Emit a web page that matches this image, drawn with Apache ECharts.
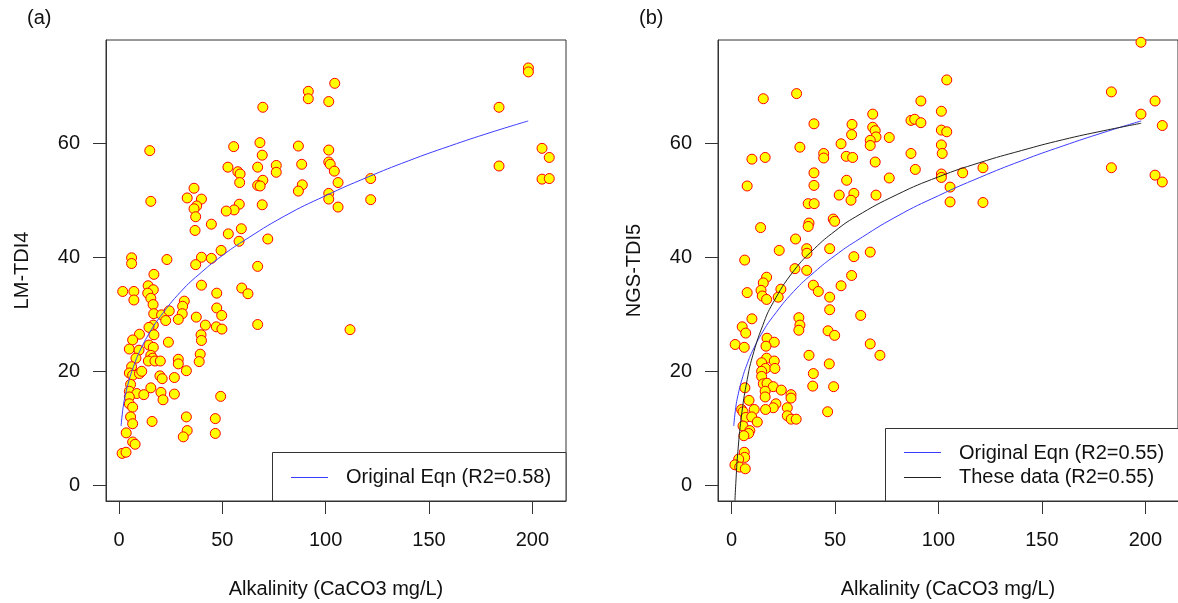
<!DOCTYPE html>
<html>
<head>
<meta charset="utf-8">
<title>TDI vs Alkalinity</title>
<script src="https://cdn.jsdelivr.net/npm/echarts@6/dist/echarts.min.js"></script>
<style>
  html, body { margin: 0; padding: 0; background: #fff; }
  #chart { width: 1178px; height: 603px; }
</style>
</head>
<body>
<div id="chart"></div>
<script>
// Panel (a): alkalinity (mg/L CaCO3) and LM-TDI4 per site
const alkA = [
  104.4, 91.6, 91.6, 101.5, 69.6, 68.2, 55.5, 14.9, 86.8, 101.5,
  69.3, 52.7, 57.5, 58.6, 67.1, 76.1, 76.1, 88.4, 101.5, 102.2,
  104.2, 106.0, 58.4, 69.6, 67.1, 68.3, 88.7, 86.8, 101.5, 101.5,
  106.0, 36.3, 33.0, 39.9, 15.4, 37.6, 36.3, 37.1, 58.2, 55.7,
  51.9, 69.3, 44.7, 36.8, 52.9, 59.2, 58.1, 72.0, 49.4, 39.9,
  44.7, 6.1, 6.1, 23.2, 37.1, 67.1, 16.9,
  1.8, 7.2, 7.2, 14.1, 16.6, 13.9, 15.4, 16.5, 16.8, 20.6,
  24.3, 22.6, 31.6, 30.8, 30.6, 28.7, 39.9, 47.3, 59.4, 62.4,
  47.3, 49.7, 37.4, 41.8, 47.1, 49.8, 67.1, 9.9, 6.6, 5.0,
  9.7, 8.2, 16.6, 14.5, 16.9, 14.5, 16.6, 15.4, 16.3, 14.2,
  17.4, 20.0, 23.9, 39.7, 39.9, 39.3, 38.8, 28.7, 28.7, 32.6,
  6.1, 5.0, 6.6, 9.9, 11.0, 19.8, 20.9, 26.8, 5.6, 5.0,
  8.6, 12.0, 15.4, 20.3, 21.3, 26.8, 5.0, 5.0, 6.6, 5.6,
  6.6, 16.0, 49.2, 32.6, 33.0, 31.1, 46.6, 46.6, 3.5, 6.6,
  7.8, 1.5, 3.4, 111.8,
  198.1, 198.1, 183.9, 204.7, 208.2, 183.9, 204.7, 208.2, 121.8, 121.8
];
const tdi4 = [
  70.5, 69.1, 67.8, 67.3, 66.3, 60.1, 59.4, 58.7, 59.5, 58.8,
  57.9, 55.8, 55.0, 54.6, 55.8, 56.1, 54.9, 56.3, 56.7, 56.3,
  55.1, 53.1, 53.1, 53.5, 52.6, 52.5, 52.7, 51.6, 51.2, 50.2,
  48.8, 52.1, 50.4, 50.2, 49.8, 49.0, 48.5, 47.1, 49.3, 48.3,
  48.1, 49.2, 45.8, 44.7, 44.1, 45.0, 42.8, 43.2, 41.2, 40.0,
  39.8, 39.9, 38.9, 39.6, 38.7, 38.4, 37.0,
  34.0, 34.0, 32.5, 35.0, 34.3, 33.7, 32.8, 31.7, 30.1, 29.9,
  30.6, 28.9, 32.3, 31.4, 30.1, 29.1, 35.1, 33.7, 34.6, 33.6,
  31.1, 29.8, 29.5, 28.1, 27.8, 27.4, 28.2, 26.5, 25.5, 23.9,
  23.7, 22.3, 28.1, 27.7, 26.4, 24.6, 24.2, 22.8, 22.3, 21.8,
  21.8, 21.8, 25.1, 26.4, 25.4, 23.0, 21.7, 22.1, 21.3, 20.1,
  20.8, 19.7, 19.3, 19.6, 20.0, 19.2, 18.7, 18.9, 17.7, 16.5,
  16.1, 15.9, 17.1, 16.3, 15.0, 16.0, 15.5, 14.3, 13.7, 12.0,
  10.8, 11.2, 15.6, 12.0, 9.6, 8.5, 11.7, 9.1, 9.2, 7.6,
  7.2, 5.6, 5.8, 27.3,
  73.2, 72.5, 66.3, 59.1, 57.5, 56.0, 53.7, 53.8, 53.8, 50.1
];

// Panel (b): alkalinity and NGS-TDI5 per site
const alkB = [
  15.3, 31.4, 39.8, 33.0, 9.8, 16.2, 7.5, 14.0, 30.9, 23.0,
  6.3, 36.3, 36.4, 47.4, 30.6, 36.3, 59.1, 67.0, 58.0, 39.8,
  39.8, 37.0, 39.9, 37.4, 37.0, 49.1, 49.8, 44.5, 44.5, 52.9,
  58.2, 58.0, 55.4, 58.5, 55.6, 52.0, 59.1, 57.7, 68.2, 68.2,
  69.4, 69.8, 67.0, 67.0, 76.2, 69.4, 76.2, 69.8, 86.7, 88.5,
  91.5, 91.5, 101.4, 104.0, 101.4, 104.0, 101.4, 101.8, 86.7, 88.8,
  101.4, 101.4, 105.6, 105.6,
  16.9, 15.3, 7.5, 14.2, 14.8, 16.9, 23.8, 22.5, 39.5, 41.9,
  52.9, 47.4, 47.4, 62.4, 9.8, 5.1, 6.8, 1.7, 6.1, 17.1,
  20.6, 16.6, 32.5, 33.0, 32.5, 46.6, 49.8, 67.0, 71.7, 37.4,
  47.2, 39.5, 39.2, 49.3, 46.4, 16.9, 20.6, 14.5, 16.4, 20.9,
  14.5, 14.5, 15.3, 17.1, 20.1, 24.0, 16.2, 16.2, 28.7, 28.7,
  21.4, 20.1, 16.4, 26.9, 26.9, 28.8, 31.2, 6.4, 8.4, 4.8,
  10.9, 5.5, 6.8, 9.7, 12.4, 5.5, 8.8, 8.2, 5.9, 6.1,
  6.3, 3.4, 1.6, 3.9, 6.6,
  111.7, 121.5, 121.5, 197.9, 183.6, 204.7, 197.9, 208.2, 183.6, 204.7,
  208.2
];
const tdi5 = [
  67.8, 68.7, 63.4, 59.3, 57.2, 57.5, 52.5, 45.2, 43.2, 41.2,
  39.5, 41.5, 40.7, 41.5, 38.0, 37.7, 40.1, 40.9, 36.8, 54.8,
  52.6, 49.4, 49.4, 46.0, 45.4, 46.7, 46.3, 58.2, 57.4, 59.9,
  63.3, 61.5, 57.7, 57.5, 53.5, 50.9, 51.2, 50.0, 65.1, 62.8,
  62.2, 61.1, 60.5, 59.6, 61.0, 56.7, 53.9, 50.9, 64.0, 64.2,
  63.6, 67.4, 65.6, 71.1, 62.3, 62.0, 59.7, 58.2, 58.2, 55.4,
  54.6, 54.0, 52.3, 49.7,
  36.5, 35.5, 33.8, 34.2, 33.2, 32.6, 34.4, 33.0, 35.1, 34.0,
  35.0, 33.0, 30.8, 29.8, 29.2, 27.8, 26.7, 24.7, 24.2, 25.8,
  25.1, 24.4, 29.4, 28.1, 27.2, 27.1, 26.3, 24.8, 22.8, 22.8,
  21.3, 19.6, 17.4, 17.3, 12.9, 22.3, 21.8, 21.5, 20.5, 20.5,
  20.0, 19.1, 17.8, 17.9, 17.3, 16.7, 16.5, 15.5, 15.9, 15.3,
  14.3, 13.6, 13.3, 13.6, 12.2, 11.6, 11.6, 17.1, 14.9, 13.3,
  13.3, 12.9, 11.9, 12.0, 11.1, 10.4, 9.6, 9.1, 8.7, 5.8,
  4.9, 4.6, 3.6, 3.2, 2.9,
  54.8, 55.7, 49.6, 77.7, 69.0, 67.4, 65.1, 63.1, 55.7, 54.4,
  53.2
];

// Fitted curves, sampled along alkalinity
const curveX      = [1, 2, 3, 5, 7.5, 10, 15, 20, 30, 40, 50, 60, 80, 100, 120, 140, 160, 180, 198];
const origEqn     = [10.4, 13.7, 15.7, 18.6, 21.3, 23.5, 26.9, 29.6, 34.0, 37.4, 40.3, 42.8, 47.2, 50.8, 54.0, 56.9, 59.5, 61.9, 63.9];
const fitX        = [1.6, 2, 3, 5, 7.5, 10, 15, 20, 30, 40, 50, 60, 80, 100, 120, 140, 160, 180, 198];
const theseData   = [-2.7, 0.3, 5.9, 12.9, 18.5, 22.5, 28.0, 32.0, 37.6, 41.5, 44.6, 47.1, 51.0, 54.1, 56.6, 58.7, 60.6, 62.2, 63.5];

const xTicks = [0, 50, 100, 150, 200];
const yTicks = [0, 20, 40, 60];

const FONT = "'Liberation Sans', Arial, sans-serif";
const zip = (xs, ys) => xs.map((x, i) => [x, ys[i]]);

const chart = echarts.init(document.getElementById('chart'), null, { renderer: 'canvas' });

function makeXAxis(idx, min, max) {
  return {
    type: 'value', gridIndex: idx, min: min, max: max, position: 'bottom',
    name: 'Alkalinity (CaCO3 mg/L)', nameLocation: 'middle', nameGap: 78,
    nameTextStyle: { fontFamily: FONT, fontSize: 20, color: '#111' },
    axisLine: { show: true, onZero: false, lineStyle: { color: '#333', width: 1 } },
    axisTick: { show: true, inside: false, length: 13, customValues: xTicks, lineStyle: { color: '#333', width: 1 } },
    axisLabel: { show: true, margin: 29, customValues: xTicks, fontFamily: FONT, fontSize: 20, color: '#111' },
    splitLine: { show: false }
  };
}
function makeYAxis(idx, title) {
  return {
    type: 'value', gridIndex: idx, min: -2.75, max: 78.1, position: 'left',
    name: title, nameLocation: 'middle', nameGap: 74, nameRotate: 90,
    nameTextStyle: { fontFamily: FONT, fontSize: 20, color: '#111' },
    axisLine: { show: true, onZero: false, lineStyle: { color: '#333', width: 1 } },
    axisTick: { show: true, inside: false, length: 13, customValues: yTicks, lineStyle: { color: '#333', width: 1 } },
    axisLabel: { show: true, margin: 26, customValues: yTicks, fontFamily: FONT, fontSize: 20, color: '#111' },
    splitLine: { show: false }
  };
}

const pointStyle = { color: '#ffff00', borderColor: '#ff0000', borderWidth: 1, opacity: 1 };

const option = {
  animation: false,
  backgroundColor: '#ffffff',
  grid: [
    { left: 106, top: 40, width: 460, height: 461, show: true, borderColor: '#333', borderWidth: 1, backgroundColor: 'transparent', containLabel: false, outerBoundsMode: 'none' },
    { left: 718, top: 40, width: 460, height: 461, show: true, borderColor: '#333', borderWidth: 1, backgroundColor: 'transparent', containLabel: false, outerBoundsMode: 'none' }
  ],
  xAxis: [ makeXAxis(0, -6.29, 216.3), makeXAxis(1, -6.6, 215.8) ],
  yAxis: [ makeYAxis(0, 'LM-TDI4'), makeYAxis(1, 'NGS-TDI5') ],
  series: [
    {
      type: 'scatter', xAxisIndex: 0, yAxisIndex: 0, z: 2,
      symbol: 'circle', symbolSize: 10, itemStyle: pointStyle,
      data: zip(alkA, tdi4)
    },
    {
      type: 'line', xAxisIndex: 0, yAxisIndex: 0, z: 3, smooth: true, showSymbol: false, clip: true,
      lineStyle: { color: '#3b3bff', width: 1 },
      data: zip(curveX, origEqn)
    },
    {
      type: 'scatter', xAxisIndex: 1, yAxisIndex: 1, z: 2,
      symbol: 'circle', symbolSize: 10, itemStyle: pointStyle,
      data: zip(alkB, tdi5)
    },
    {
      type: 'line', xAxisIndex: 1, yAxisIndex: 1, z: 3, smooth: true, showSymbol: false, clip: true,
      lineStyle: { color: '#3b3bff', width: 1 },
      data: zip(curveX, origEqn)
    },
    {
      type: 'line', xAxisIndex: 1, yAxisIndex: 1, z: 3, smooth: true, showSymbol: false, clip: true,
      lineStyle: { color: '#222222', width: 1 },
      data: zip(fitX, theseData)
    }
  ],
  graphic: [
    // panel tags
    { type: 'text', left: 27, top: 8, z: 100, style: { text: '(a)', font: '20px ' + FONT, fill: '#111' } },
    { type: 'text', left: 639, top: 8, z: 100, style: { text: '(b)', font: '20px ' + FONT, fill: '#111' } },
    // legend, panel (a)
    { type: 'rect', z: 100, shape: { x: 272.5, y: 452.5, width: 293.5, height: 48.5 }, style: { fill: '#fff', stroke: '#333', lineWidth: 1 } },
    { type: 'line', z: 101, shape: { x1: 291, y1: 477.5, x2: 328, y2: 477.5 }, style: { stroke: '#3b3bff', lineWidth: 1 } },
    { type: 'text', z: 101, x: 346, y: 477, style: { text: 'Original Eqn (R2=0.58)', font: '20px ' + FONT, fill: '#111', textVerticalAlign: 'middle' } },
    // legend, panel (b)
    { type: 'rect', z: 100, shape: { x: 885.5, y: 428.5, width: 300, height: 72.5 }, style: { fill: '#fff', stroke: '#333', lineWidth: 1 } },
    { type: 'line', z: 101, shape: { x1: 904, y1: 452.5, x2: 941, y2: 452.5 }, style: { stroke: '#3b3bff', lineWidth: 1 } },
    { type: 'line', z: 101, shape: { x1: 904, y1: 477.5, x2: 941, y2: 477.5 }, style: { stroke: '#222', lineWidth: 1 } },
    { type: 'text', z: 101, x: 959, y: 453, style: { text: 'Original Eqn (R2=0.55)', font: '20px ' + FONT, fill: '#111', textVerticalAlign: 'middle' } },
    { type: 'text', z: 101, x: 959, y: 477, style: { text: 'These data (R2=0.55)', font: '20px ' + FONT, fill: '#111', textVerticalAlign: 'middle' } }
  ]
};

chart.setOption(option);
</script>
</body>
</html>
